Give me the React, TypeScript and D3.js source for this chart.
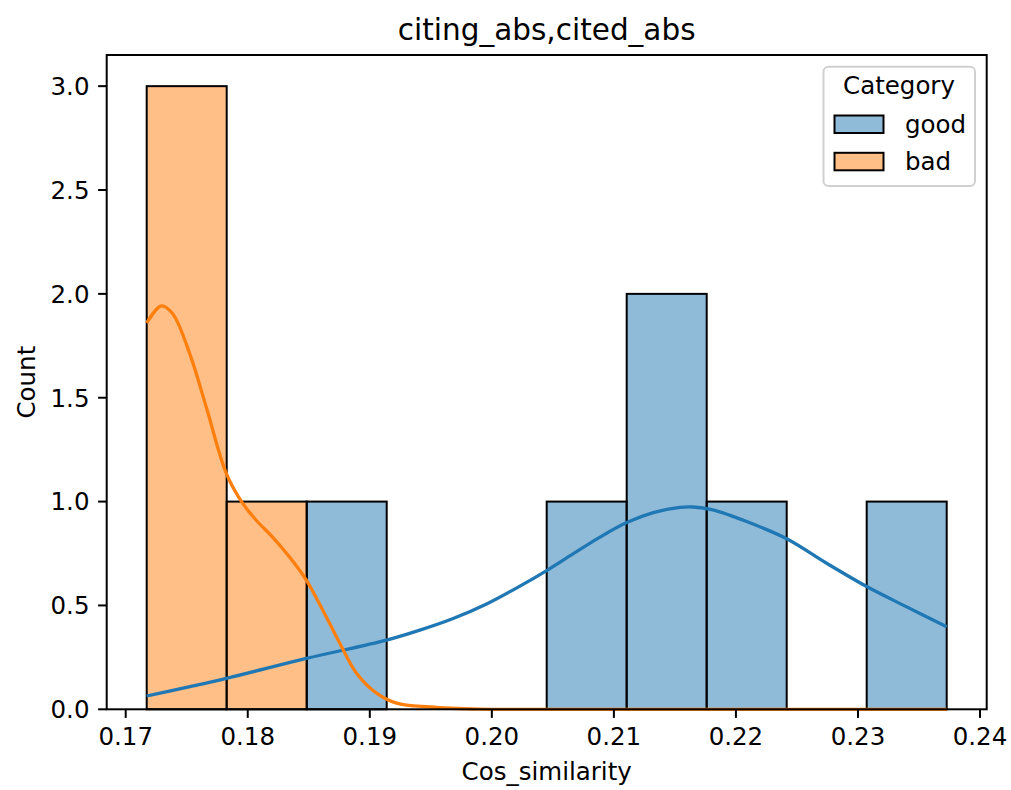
import React from "react";
import * as d3 from "d3";

const title = "citing_abs,cited_abs";
const xLabel = "Cos_similarity";
const yLabel = "Count";
const categories = ["good", "bad"];
const colors = ["#1f77b4", "#ff7f0e"];

const binMin = 0.17172;
const binMax = 0.23727;
const nBins = 10;
const goodCounts = [0, 0, 1, 0, 0, 1, 2, 1, 0, 1];
const badCounts = [3, 1, 0, 0, 0, 0, 0, 0, 0, 0];

const xTicks = [0.17, 0.18, 0.19, 0.2, 0.21, 0.22, 0.23, 0.24];
const yTicks = [0, 0.5, 1.0, 1.5, 2.0, 2.5, 3.0];

const goodKdeX = [0.17172, 0.17825, 0.18481, 0.19137, 0.1941, 0.19683, 0.19957, 0.2023, 0.20449, 0.20668, 0.20886, 0.21105, 0.21323, 0.21541, 0.21648, 0.21811, 0.22088, 0.22416, 0.22743, 0.23071, 0.23399, 0.23727];
const goodKdeY = [0.064, 0.149, 0.245, 0.333, 0.381, 0.437, 0.507, 0.593, 0.668, 0.749, 0.829, 0.899, 0.947, 0.972, 0.974, 0.96, 0.904, 0.821, 0.703, 0.591, 0.493, 0.397];
const badKdeX = [0.17172, 0.17293, 0.17385, 0.17525, 0.17661, 0.17825, 0.17959, 0.18071, 0.18205, 0.18344, 0.18481, 0.18615, 0.18754, 0.18891, 0.19055, 0.19219, 0.19492, 0.19902, 0.21, 0.23727];
const badKdeY = [1.86, 1.942, 1.904, 1.711, 1.453, 1.135, 0.991, 0.909, 0.828, 0.732, 0.621, 0.477, 0.318, 0.174, 0.078, 0.03, 0.011, 0.001, 0, 0];

const W = 1011;
const H = 790;
const left = 106.7, right = 986.7, top = 55, bottom = 709.3;
const FONT = "DejaVu Sans, sans-serif";

export default function App() {
  const pad = (binMax - binMin) * 0.05;
  const x = d3.scaleLinear().domain([binMin - pad, binMax + pad]).range([left, right]);
  const y = d3.scaleLinear().domain([0, 3.15]).range([bottom, top]);
  const bw = (binMax - binMin) / nBins;
  const edges = d3.range(nBins + 1).map((i) => binMin + i * bw);

  const bars: { x0: number; x1: number; c: number; k: number }[] = [];
  [goodCounts, badCounts].forEach((counts, k) => {
    counts.forEach((c, i) => {
      if (c > 0) bars.push({ x0: edges[i], x1: edges[i + 1], c, k });
    });
  });

  const line = d3
    .line<[number, number]>()
    .x((d) => x(d[0]))
    .y((d) => y(d[1]))
    .curve(d3.curveCatmullRom.alpha(0.5));
  const goodPts = goodKdeX.map((v, i) => [v, goodKdeY[i]] as [number, number]);
  const badPts = badKdeX.map((v, i) => [v, badKdeY[i]] as [number, number]);

  const tickLen = 8.6;
  const fs = 24.5;

  return (
    <svg width={W} height={H} style={{ position: "absolute", left: 0, top: 0, background: "#fff" }} fontFamily={FONT}>
      <rect x={0} y={0} width={W} height={H} fill="#fff" />
      {bars.map((b, i) => (
        <rect
          key={i}
          x={x(b.x0)}
          y={y(b.c)}
          width={x(b.x1) - x(b.x0)}
          height={y(0) - y(b.c)}
          fill={colors[b.k]}
          fillOpacity={0.5}
          stroke="#000"
          strokeWidth={2}
        />
      ))}
      <path d={line(goodPts) || ""} fill="none" stroke={colors[0]} strokeWidth={3.3} />
      <path d={line(badPts) || ""} fill="none" stroke={colors[1]} strokeWidth={3.3} />

      {/* spines */}
      <rect x={left} y={top} width={right - left} height={bottom - top} fill="none" stroke="#000" strokeWidth={2} />

      {/* x ticks */}
      {xTicks.map((t) => (
        <g key={t}>
          <line x1={x(t)} x2={x(t)} y1={bottom} y2={bottom + tickLen} stroke="#000" strokeWidth={2} />
          <text x={x(t)} y={745} textAnchor="middle" fontSize={fs} fill="#000">
            {t.toFixed(2)}
          </text>
        </g>
      ))}
      {/* y ticks */}
      {yTicks.map((t) => (
        <g key={t}>
          <line x1={left - tickLen} x2={left} y1={y(t)} y2={y(t)} stroke="#000" strokeWidth={2} />
          <text x={left - tickLen - 8.6} y={y(t) + 8.8} textAnchor="end" fontSize={fs} fill="#000">
            {t.toFixed(1)}
          </text>
        </g>
      ))}

      <text x={(left + right) / 2} y={780} textAnchor="middle" fontSize={fs} fill="#000">
        {xLabel}
      </text>
      <text transform={`translate(35,${(top + bottom) / 2}) rotate(-90)`} textAnchor="middle" fontSize={fs} fill="#000">
        {yLabel}
      </text>
      <text x={(left + right) / 2} y={40} textAnchor="middle" fontSize={29.5} fill="#000">
        {title}
      </text>

      {/* legend */}
      <g>
        <rect x={823.5} y={66.7} width={151.5} height={119.3} rx={5} fill="#fff" fillOpacity={0.8} stroke="#d0d0d0" strokeWidth={2} />
        <text x={899} y={94.3} textAnchor="middle" fontSize={fs} fill="#000">
          Category
        </text>
        {categories.map((c, i) => (
          <g key={c}>
            <rect x={834.5} y={115.5 + i * 37.3} width={49} height={17.5} fill={colors[i]} fillOpacity={0.5} stroke="#000" strokeWidth={2} />
            <text x={905} y={132.7 + i * 37.3} fontSize={fs} fill="#000">
              {c}
            </text>
          </g>
        ))}
      </g>
    </svg>
  );
}
